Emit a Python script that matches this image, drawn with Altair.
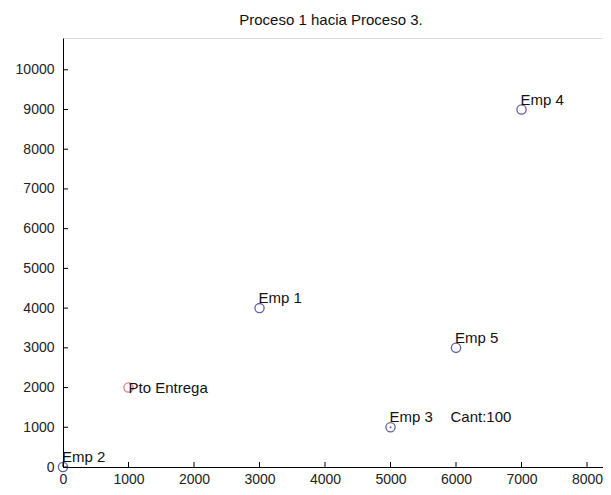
import altair as alt
import pandas as pd

# data
names = ["Pto Entrega", "Emp 1", "Emp 2", "Emp 3", "Emp 4", "Emp 5"]
xs = [1000, 3000, 0, 5000, 7000, 6000]
ys = [2000, 4000, 0, 1000, 9000, 3000]
kinds = ["entrega", "emp", "emp", "emp", "emp", "emp"]
extra_label = "Cant:100"
extra_x = [5000]
extra_y = [1000]
x_ticks = [0, 1000, 2000, 3000, 4000, 5000, 6000, 7000, 8000]
y_ticks = [0, 1000, 2000, 3000, 4000, 5000, 6000, 7000, 8000, 9000, 10000]

W, H = 540, 429
FONT = "Liberation Sans"
BLUE = "#1c1c80"
RED = "#d84848"

df = pd.DataFrame({"name": names, "x": xs, "y": ys, "kind": kinds})
dfx = pd.DataFrame({"x": x_ticks})
dfy = pd.DataFrame({"y": y_ticks})
dfe = pd.DataFrame({"x": extra_x, "y": extra_y, "t": [extra_label]})

xscale = alt.Scale(domain=[0, 8244], nice=False, zero=False)
yscale = alt.Scale(domain=[0, 10800], nice=False, zero=False)

xaxis = alt.Axis(values=x_ticks, ticks=False, grid=False, title=None, labelFont=FONT,
                 labelFontSize=14, labelColor="#222", labelPadding=5, domainColor="#000",
                 domainWidth=1, format="d", labelFlush=False)
yaxis = alt.Axis(values=y_ticks, ticks=False, grid=False, title=None, labelFont=FONT,
                 labelFontSize=14, labelColor="#222", labelPadding=9, domainColor="#000",
                 domainWidth=1, format="d", labelFlush=False)

base = alt.Chart(df)

pts = base.mark_point(shape="circle", filled=False, size=85, strokeWidth=1.3).encode(
    x=alt.X("x:Q", scale=xscale, axis=xaxis),
    y=alt.Y("y:Q", scale=yscale, axis=yaxis),
    color=alt.Color("kind:N", scale=alt.Scale(domain=["entrega", "emp"], range=[RED, BLUE]), legend=None),
)

emp_labels = base.transform_filter("datum.kind == 'emp'").mark_text(
    align="left", baseline="alphabetic", dx=-1, dy=-5, font=FONT, fontSize=15, color="#111"
).encode(x="x:Q", y="y:Q", text="name:N")

ent_labels = base.transform_filter("datum.kind == 'entrega'").mark_text(
    align="left", baseline="alphabetic", dx=0, dy=5, font=FONT, fontSize=15, color="#111"
).encode(x="x:Q", y="y:Q", text="name:N")

dot = alt.Chart(dfe).mark_point(shape="circle", filled=True, size=4, color=BLUE).encode(x="x:Q", y="y:Q")

extra = alt.Chart(dfe).mark_text(
    align="left", baseline="alphabetic", dx=60, dy=-5, font=FONT, fontSize=15, color="#111"
).encode(x="x:Q", y="y:Q", text="t:N")

xt = alt.Chart(dfx).mark_rule(color="#000", strokeWidth=1).encode(
    x="x:Q", y=alt.value(H), y2=alt.value(H - 5))
yt = alt.Chart(dfy).mark_rule(color="#000", strokeWidth=1).encode(
    y="y:Q", x=alt.value(0), x2=alt.value(5))

chart = alt.layer(xt, yt, pts, dot, emp_labels, ent_labels, extra).properties(
    width=W, height=H,
    title=alt.TitleParams("Proceso 1 hacia Proceso 3.", font=FONT, fontSize=15,
                          fontWeight="normal", color="#111", offset=10, dx=-2, anchor="middle"),
    autosize=alt.AutoSizeParams(type="none"),
    padding={"left": 55, "top": 30, "right": 0, "bottom": 20},
).configure_view(stroke=None).configure(background="white")

chart.save("out.html", embed_options={"renderer": "svg", "actions": False})
